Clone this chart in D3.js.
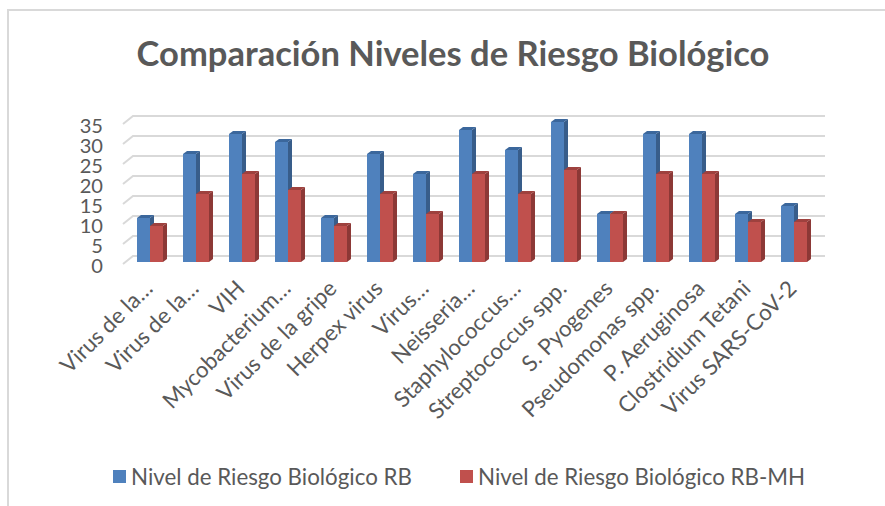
<!DOCTYPE html>
<html>
<head>
<meta charset="utf-8">
<script src="https://cdn.jsdelivr.net/npm/d3@7"></script>
<style>
  body { margin: 0; background: #fff; }
  text { font-family: Lato, "Open Sans", sans-serif; fill: #595959; }
</style>
</head>
<body>
<script>
var categories = ["Virus de la…", "Virus de la…", "VIH", "Mycobacterium…", "Virus de la gripe",
  "Herpex virus", "Virus…", "Neisseria…", "Staphylococcus…", "Streptococcus spp.",
  "S. Pyogenes", "Pseudomonas spp.", "P. Aeruginosa", "Clostridium Tetani", "Virus SARS-CoV-2"];
var rb   = [11, 27, 32, 30, 11, 27, 22, 33, 28, 35, 12, 32, 32, 12, 14];
var rbmh = [9, 17, 22, 18, 9, 17, 12, 22, 17, 23, 12, 22, 22, 10, 10];
var seriesNames = ["Nivel de Riesgo Biológico RB", "Nivel de Riesgo Biológico RB-MH"];
var yTicks = [0, 5, 10, 15, 20, 25, 30, 35];

var width = 885, height = 506;

var svg = d3.select("body").append("svg")
    .attr("width", width)
    .attr("height", height);

// marco del gráfico
svg.append("path")
  .attr("d", "M8,506 V10 H885")
  .attr("fill", "none")
  .attr("stroke", "#d9d9d9")
  .attr("stroke-width", 2);

// hay dos categorías con el mismo nombre, así que el dominio va por índice
var x = d3.scaleBand()
  .domain(d3.range(categories.length))
  .range([127, 817])
  .paddingInner(0.435)
  .paddingOuter(0.2175);

var x1 = d3.scaleBand()
  .domain([0, 1])
  .range([0, x.bandwidth()]);

var y = d3.scaleLinear().domain([0, 35]).range([262, 122]);

// profundidad de la pared de fondo y de las barras
var wallDy = -6;
var barDx = 4, barDy = -3;

// medir la fuente para acercarse al ancho de Calibri
var probe = svg.append("text").attr("font-size", 24).text(seriesNames[0]);
var k = 281 / probe.node().getComputedTextLength();
probe.remove();
var fs = 24 * k;

// líneas de división
var grid = svg.append("g");
yTicks.forEach(function(t){
  var yb = y(t) + wallDy;
  grid.append("path")
    .attr("d", "M123," + (yb + 8) + " L133," + yb + " H825")
    .attr("fill", "none")
    .attr("stroke", "#d9d9d9")
    .attr("stroke-width", 2);
  grid.append("text")
    .attr("x", 103)
    .attr("y", yb + 10)
    .attr("dy", "0.35em")
    .attr("text-anchor", "end")
    .attr("font-size", fs * 0.9)
    .text(t);
});

var colors = [
  {front: "#4f81bd", side: "#385d8a", top: "#3b679c"},
  {front: "#c0504d", side: "#8c3836", top: "#9e413e"}
];

var groups = svg.selectAll("g.cat")
  .data(categories.map(function(c, i){ return {i: i, c: c, v: [rb[i], rbmh[i]]}; }))
  .enter().append("g")
  .attr("class", "cat")
  .attr("transform", function(d){ return "translate(" + x(d.i) + ",0)"; });

[0, 1].forEach(function(s){
  var col = colors[s];
  var w = x1.bandwidth();
  groups.append("path")
    .attr("fill", col.side)
    .attr("d", function(d){
      var x0 = x1(s) + w, yt = y(d.v[s]), yb = y(0);
      return "M" + x0 + "," + yb + " L" + (x0 + barDx) + "," + (yb + barDy) +
        " L" + (x0 + barDx) + "," + (yt + barDy) + " L" + x0 + "," + yt + "Z";
    });
  groups.append("path")
    .attr("fill", col.top)
    .attr("d", function(d){
      var x0 = x1(s), yt = y(d.v[s]);
      return "M" + x0 + "," + yt + " L" + (x0 + barDx) + "," + (yt + barDy) +
        " L" + (x0 + w + barDx) + "," + (yt + barDy) + " L" + (x0 + w) + "," + yt + "Z";
    });
  groups.append("rect")
    .attr("fill", col.front)
    .attr("x", x1(s))
    .attr("width", w)
    .attr("y", function(d){ return y(d.v[s]); })
    .attr("height", function(d){ return y(0) - y(d.v[s]); });
});

// etiquetas de categorías
svg.append("g").selectAll("text")
  .data(categories)
  .enter().append("text")
  .attr("font-size", fs)
  .attr("text-anchor", "end")
  .attr("transform", function(d, i){
    return "translate(" + (x(i) + x.bandwidth() / 2 + 4) + ",290) rotate(-45)";
  })
  .text(function(d){ return d; });

// título
var title = svg.append("text")
  .attr("x", 453)
  .attr("y", 66)
  .attr("text-anchor", "middle")
  .attr("font-weight", "bold")
  .attr("font-size", 32)
  .text("Comparación Niveles de Riesgo Biológico");
var tk = 633 / title.node().getComputedTextLength();
title.attr("font-size", 32 * tk);

// leyenda
var legendX = [113, 460];
seriesNames.forEach(function(n, i){
  svg.append("rect")
    .attr("x", legendX[i])
    .attr("y", 470)
    .attr("width", 13)
    .attr("height", 13)
    .attr("fill", colors[i].front);
  svg.append("text")
    .attr("x", legendX[i] + 18)
    .attr("y", 477)
    .attr("dy", "0.35em")
    .attr("font-size", fs)
    .text(n);
});
</script>
</body>
</html>
